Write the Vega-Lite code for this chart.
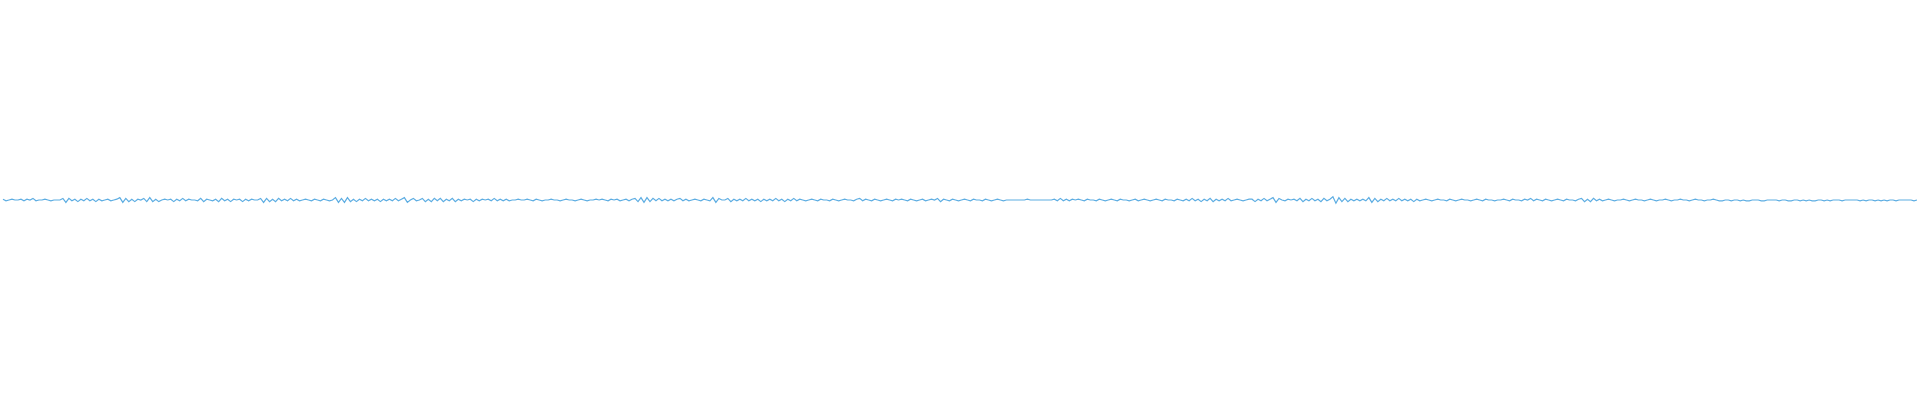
{
"$schema":"https://vega.github.io/schema/vega-lite/v6.json",
"width":1920,"height":400,"padding":0,
"autosize":{"type":"fit","contains":"padding"},
"config":{"view":{"stroke":null}},
"data":{"values":[
{"t":0,"amp":1},{"t":1,"amp":-1},{"t":2,"amp":0},{"t":3,"amp":1},{"t":4,"amp":0},{"t":5,"amp":0},{"t":6,"amp":1},{"t":7,"amp":-1},{"t":8,"amp":1},{"t":9,"amp":0},
{"t":10,"amp":2},{"t":11,"amp":-1},{"t":12,"amp":0},{"t":13,"amp":0},{"t":14,"amp":1},{"t":15,"amp":0},{"t":16,"amp":-1},{"t":17,"amp":0},{"t":18,"amp":0},{"t":19,"amp":0},
{"t":20,"amp":2},{"t":21,"amp":-3},{"t":22,"amp":2},{"t":23,"amp":-1},{"t":24,"amp":1},{"t":25,"amp":-2},{"t":26,"amp":1},{"t":27,"amp":-1},{"t":28,"amp":2},{"t":29,"amp":-1},
{"t":30,"amp":1},{"t":31,"amp":-2},{"t":32,"amp":1},{"t":33,"amp":-1},{"t":34,"amp":0},{"t":35,"amp":1},{"t":36,"amp":-1},{"t":37,"amp":0},{"t":38,"amp":1},{"t":39,"amp":3},
{"t":40,"amp":-3},{"t":41,"amp":2},{"t":42,"amp":-2},{"t":43,"amp":1},{"t":44,"amp":-2},{"t":45,"amp":1},{"t":46,"amp":0},{"t":47,"amp":2},{"t":48,"amp":-2},{"t":49,"amp":3},
{"t":50,"amp":-2},{"t":51,"amp":1},{"t":52,"amp":-2},{"t":53,"amp":0},{"t":54,"amp":1},{"t":55,"amp":0},{"t":56,"amp":1},{"t":57,"amp":-2},{"t":58,"amp":1},{"t":59,"amp":-1},
{"t":60,"amp":2},{"t":61,"amp":-1},{"t":62,"amp":1},{"t":63,"amp":0},{"t":64,"amp":0},{"t":65,"amp":-1},{"t":66,"amp":2},{"t":67,"amp":-2},{"t":68,"amp":1},{"t":69,"amp":0},
{"t":70,"amp":-1},{"t":71,"amp":1},{"t":72,"amp":-2},{"t":73,"amp":2},{"t":74,"amp":-1},{"t":75,"amp":1},{"t":76,"amp":-2},{"t":77,"amp":1},{"t":78,"amp":0},{"t":79,"amp":1},
{"t":80,"amp":-2},{"t":81,"amp":1},{"t":82,"amp":-1},{"t":83,"amp":1},{"t":84,"amp":0},{"t":85,"amp":0},{"t":86,"amp":2},{"t":87,"amp":-3},{"t":88,"amp":2},{"t":89,"amp":-2},
{"t":90,"amp":1},{"t":91,"amp":-2},{"t":92,"amp":2},{"t":93,"amp":-1},{"t":94,"amp":1},{"t":95,"amp":-1},{"t":96,"amp":2},{"t":97,"amp":-1},{"t":98,"amp":1},{"t":99,"amp":-1},
{"t":100,"amp":0},{"t":101,"amp":1},{"t":102,"amp":0},{"t":103,"amp":-1},{"t":104,"amp":1},{"t":105,"amp":0},{"t":106,"amp":-1},{"t":107,"amp":1},{"t":108,"amp":0},{"t":109,"amp":-1},
{"t":110,"amp":0},{"t":111,"amp":3},{"t":112,"amp":-3},{"t":113,"amp":2},{"t":114,"amp":-3},{"t":115,"amp":3},{"t":116,"amp":-2},{"t":117,"amp":1},{"t":118,"amp":-2},{"t":119,"amp":1},
{"t":120,"amp":-1},{"t":121,"amp":2},{"t":122,"amp":-1},{"t":123,"amp":1},{"t":124,"amp":-1},{"t":125,"amp":1},{"t":126,"amp":-2},{"t":127,"amp":1},{"t":128,"amp":-1},{"t":129,"amp":1},
{"t":130,"amp":-1},{"t":131,"amp":2},{"t":132,"amp":-1},{"t":133,"amp":1},{"t":134,"amp":3},{"t":135,"amp":-3},{"t":136,"amp":0},{"t":137,"amp":2},{"t":138,"amp":-1},{"t":139,"amp":0},
{"t":140,"amp":2},{"t":141,"amp":-2},{"t":142,"amp":1},{"t":143,"amp":-2},{"t":144,"amp":2},{"t":145,"amp":-1},{"t":146,"amp":2},{"t":147,"amp":-2},{"t":148,"amp":1},{"t":149,"amp":-1},
{"t":150,"amp":2},{"t":151,"amp":-2},{"t":152,"amp":1},{"t":153,"amp":-1},{"t":154,"amp":1},{"t":155,"amp":0},{"t":156,"amp":1},{"t":157,"amp":-2},{"t":158,"amp":1},{"t":159,"amp":-1},
{"t":160,"amp":1},{"t":161,"amp":0},{"t":162,"amp":1},{"t":163,"amp":-1},{"t":164,"amp":2},{"t":165,"amp":-1},{"t":166,"amp":1},{"t":167,"amp":-1},{"t":168,"amp":1},{"t":169,"amp":-1},
{"t":170,"amp":0},{"t":171,"amp":0},{"t":172,"amp":1},{"t":173,"amp":0},{"t":174,"amp":0},{"t":175,"amp":1},{"t":176,"amp":0},{"t":177,"amp":-1},{"t":178,"amp":1},{"t":179,"amp":0},
{"t":180,"amp":-1},{"t":181,"amp":0},{"t":182,"amp":0},{"t":183,"amp":1},{"t":184,"amp":0},{"t":185,"amp":0},{"t":186,"amp":-1},{"t":187,"amp":0},{"t":188,"amp":1},{"t":189,"amp":0},
{"t":190,"amp":0},{"t":191,"amp":-1},{"t":192,"amp":0},{"t":193,"amp":1},{"t":194,"amp":0},{"t":195,"amp":-1},{"t":196,"amp":0},{"t":197,"amp":0},{"t":198,"amp":1},{"t":199,"amp":0},
{"t":200,"amp":1},{"t":201,"amp":0},{"t":202,"amp":-1},{"t":203,"amp":1},{"t":204,"amp":0},{"t":205,"amp":1},{"t":206,"amp":-1},{"t":207,"amp":0},{"t":208,"amp":1},{"t":209,"amp":-1},
{"t":210,"amp":1},{"t":211,"amp":2},{"t":212,"amp":-2},{"t":213,"amp":3},{"t":214,"amp":-3},{"t":215,"amp":3},{"t":216,"amp":-2},{"t":217,"amp":2},{"t":218,"amp":-1},{"t":219,"amp":2},
{"t":220,"amp":-1},{"t":221,"amp":1},{"t":222,"amp":-1},{"t":223,"amp":1},{"t":224,"amp":-1},{"t":225,"amp":1},{"t":226,"amp":2},{"t":227,"amp":-1},{"t":228,"amp":1},{"t":229,"amp":-1},
{"t":230,"amp":0},{"t":231,"amp":1},{"t":232,"amp":0},{"t":233,"amp":-1},{"t":234,"amp":1},{"t":235,"amp":0},{"t":236,"amp":-1},{"t":237,"amp":3},{"t":238,"amp":-3},{"t":239,"amp":2},
{"t":240,"amp":0},{"t":241,"amp":0},{"t":242,"amp":2},{"t":243,"amp":-2},{"t":244,"amp":1},{"t":245,"amp":-1},{"t":246,"amp":1},{"t":247,"amp":-1},{"t":248,"amp":2},{"t":249,"amp":-1},
{"t":250,"amp":1},{"t":251,"amp":-1},{"t":252,"amp":1},{"t":253,"amp":-2},{"t":254,"amp":1},{"t":255,"amp":-1},{"t":256,"amp":1},{"t":257,"amp":-1},{"t":258,"amp":2},{"t":259,"amp":-1},
{"t":260,"amp":1},{"t":261,"amp":-2},{"t":262,"amp":1},{"t":263,"amp":-1},{"t":264,"amp":2},{"t":265,"amp":-1},{"t":266,"amp":1},{"t":267,"amp":0},{"t":268,"amp":-1},{"t":269,"amp":0},
{"t":270,"amp":1},{"t":271,"amp":0},{"t":272,"amp":-1},{"t":273,"amp":1},{"t":274,"amp":0},{"t":275,"amp":0},{"t":276,"amp":-1},{"t":277,"amp":1},{"t":278,"amp":0},{"t":279,"amp":-1},
{"t":280,"amp":0},{"t":281,"amp":1},{"t":282,"amp":0},{"t":283,"amp":0},{"t":284,"amp":-1},{"t":285,"amp":1},{"t":286,"amp":2},{"t":287,"amp":-1},{"t":288,"amp":1},{"t":289,"amp":0},
{"t":290,"amp":-1},{"t":291,"amp":1},{"t":292,"amp":0},{"t":293,"amp":-1},{"t":294,"amp":0},{"t":295,"amp":1},{"t":296,"amp":0},{"t":297,"amp":-1},{"t":298,"amp":1},{"t":299,"amp":0},
{"t":300,"amp":1},{"t":301,"amp":0},{"t":302,"amp":-1},{"t":303,"amp":1},{"t":304,"amp":0},{"t":305,"amp":-1},{"t":306,"amp":0},{"t":307,"amp":1},{"t":308,"amp":-1},{"t":309,"amp":0},
{"t":310,"amp":1},{"t":311,"amp":0},{"t":312,"amp":2},{"t":313,"amp":-2},{"t":314,"amp":1},{"t":315,"amp":0},{"t":316,"amp":-1},{"t":317,"amp":1},{"t":318,"amp":0},{"t":319,"amp":-1},
{"t":320,"amp":0},{"t":321,"amp":1},{"t":322,"amp":0},{"t":323,"amp":-1},{"t":324,"amp":1},{"t":325,"amp":0},{"t":326,"amp":0},{"t":327,"amp":-1},{"t":328,"amp":1},{"t":329,"amp":0},
{"t":330,"amp":-1},{"t":331,"amp":0},{"t":332,"amp":1},{"t":333,"amp":0},{"t":334,"amp":-1},{"t":335,"amp":0},{"t":336,"amp":0},{"t":337,"amp":0},{"t":338,"amp":0},{"t":339,"amp":0},
{"t":340,"amp":0},{"t":341,"amp":0},{"t":342,"amp":1},{"t":343,"amp":0},{"t":344,"amp":0},{"t":345,"amp":0},{"t":346,"amp":0},{"t":347,"amp":0},{"t":348,"amp":0},{"t":349,"amp":0},
{"t":350,"amp":0},{"t":351,"amp":1},{"t":352,"amp":-1},{"t":353,"amp":2},{"t":354,"amp":-1},{"t":355,"amp":1},{"t":356,"amp":-1},{"t":357,"amp":1},{"t":358,"amp":0},{"t":359,"amp":1},
{"t":360,"amp":0},{"t":361,"amp":-1},{"t":362,"amp":1},{"t":363,"amp":0},{"t":364,"amp":0},{"t":365,"amp":-1},{"t":366,"amp":1},{"t":367,"amp":0},{"t":368,"amp":-1},{"t":369,"amp":0},
{"t":370,"amp":1},{"t":371,"amp":0},{"t":372,"amp":-1},{"t":373,"amp":1},{"t":374,"amp":0},{"t":375,"amp":0},{"t":376,"amp":-1},{"t":377,"amp":0},{"t":378,"amp":1},{"t":379,"amp":-1},
{"t":380,"amp":0},{"t":381,"amp":1},{"t":382,"amp":0},{"t":383,"amp":-1},{"t":384,"amp":0},{"t":385,"amp":1},{"t":386,"amp":0},{"t":387,"amp":-1},{"t":388,"amp":1},{"t":389,"amp":0},
{"t":390,"amp":0},{"t":391,"amp":-1},{"t":392,"amp":1},{"t":393,"amp":0},{"t":394,"amp":-1},{"t":395,"amp":1},{"t":396,"amp":-1},{"t":397,"amp":2},{"t":398,"amp":-1},{"t":399,"amp":1},
{"t":400,"amp":-2},{"t":401,"amp":1},{"t":402,"amp":-1},{"t":403,"amp":2},{"t":404,"amp":-2},{"t":405,"amp":1},{"t":406,"amp":-1},{"t":407,"amp":1},{"t":408,"amp":-1},{"t":409,"amp":2},
{"t":410,"amp":-1},{"t":411,"amp":0},{"t":412,"amp":1},{"t":413,"amp":0},{"t":414,"amp":-1},{"t":415,"amp":0},{"t":416,"amp":1},{"t":417,"amp":1},{"t":418,"amp":-2},{"t":419,"amp":1},
{"t":420,"amp":-1},{"t":421,"amp":2},{"t":422,"amp":-1},{"t":423,"amp":1},{"t":424,"amp":3},{"t":425,"amp":-3},{"t":426,"amp":2},{"t":427,"amp":0},{"t":428,"amp":-1},{"t":429,"amp":1},
{"t":430,"amp":0},{"t":431,"amp":1},{"t":432,"amp":-1},{"t":433,"amp":2},{"t":434,"amp":-2},{"t":435,"amp":1},{"t":436,"amp":-1},{"t":437,"amp":2},{"t":438,"amp":-1},{"t":439,"amp":1},
{"t":440,"amp":-2},{"t":441,"amp":2},{"t":442,"amp":-1},{"t":443,"amp":1},{"t":444,"amp":4},{"t":445,"amp":-4},{"t":446,"amp":3},{"t":447,"amp":-2},{"t":448,"amp":2},{"t":449,"amp":-2},
{"t":450,"amp":1},{"t":451,"amp":-1},{"t":452,"amp":1},{"t":453,"amp":-1},{"t":454,"amp":1},{"t":455,"amp":-1},{"t":456,"amp":3},{"t":457,"amp":-3},{"t":458,"amp":2},{"t":459,"amp":-2},
{"t":460,"amp":1},{"t":461,"amp":-1},{"t":462,"amp":2},{"t":463,"amp":-1},{"t":464,"amp":1},{"t":465,"amp":-1},{"t":466,"amp":2},{"t":467,"amp":-1},{"t":468,"amp":1},{"t":469,"amp":-1},
{"t":470,"amp":1},{"t":471,"amp":-2},{"t":472,"amp":1},{"t":473,"amp":-1},{"t":474,"amp":0},{"t":475,"amp":1},{"t":476,"amp":0},{"t":477,"amp":-1},{"t":478,"amp":0},{"t":479,"amp":1},
{"t":480,"amp":0},{"t":481,"amp":0},{"t":482,"amp":-1},{"t":483,"amp":1},{"t":484,"amp":0},{"t":485,"amp":-1},{"t":486,"amp":0},{"t":487,"amp":1},{"t":488,"amp":0},{"t":489,"amp":0},
{"t":490,"amp":-1},{"t":491,"amp":0},{"t":492,"amp":1},{"t":493,"amp":0},{"t":494,"amp":-1},{"t":495,"amp":1},{"t":496,"amp":0},{"t":497,"amp":0},{"t":498,"amp":-1},{"t":499,"amp":0},
{"t":500,"amp":0},{"t":501,"amp":1},{"t":502,"amp":0},{"t":503,"amp":-1},{"t":504,"amp":1},{"t":505,"amp":0},{"t":506,"amp":0},{"t":507,"amp":-1},{"t":508,"amp":1},{"t":509,"amp":0},
{"t":510,"amp":2},{"t":511,"amp":-1},{"t":512,"amp":1},{"t":513,"amp":0},{"t":514,"amp":-1},{"t":515,"amp":1},{"t":516,"amp":0},{"t":517,"amp":-1},{"t":518,"amp":0},{"t":519,"amp":1},
{"t":520,"amp":0},{"t":521,"amp":-1},{"t":522,"amp":1},{"t":523,"amp":0},{"t":524,"amp":0},{"t":525,"amp":-1},{"t":526,"amp":1},{"t":527,"amp":2},{"t":528,"amp":-2},{"t":529,"amp":1},
{"t":530,"amp":-2},{"t":531,"amp":2},{"t":532,"amp":-1},{"t":533,"amp":1},{"t":534,"amp":-1},{"t":535,"amp":0},{"t":536,"amp":1},{"t":537,"amp":0},{"t":538,"amp":-1},{"t":539,"amp":0},
{"t":540,"amp":0},{"t":541,"amp":1},{"t":542,"amp":0},{"t":543,"amp":-1},{"t":544,"amp":0},{"t":545,"amp":1},{"t":546,"amp":0},{"t":547,"amp":0},{"t":548,"amp":-1},{"t":549,"amp":0},
{"t":550,"amp":1},{"t":551,"amp":0},{"t":552,"amp":-1},{"t":553,"amp":0},{"t":554,"amp":0},{"t":555,"amp":1},{"t":556,"amp":0},{"t":557,"amp":-1},{"t":558,"amp":0},{"t":559,"amp":0},
{"t":560,"amp":1},{"t":561,"amp":0},{"t":562,"amp":0},{"t":563,"amp":-1},{"t":564,"amp":0},{"t":565,"amp":1},{"t":566,"amp":0},{"t":567,"amp":0},{"t":568,"amp":-1},{"t":569,"amp":0},
{"t":570,"amp":0},{"t":571,"amp":1},{"t":572,"amp":0},{"t":573,"amp":-1},{"t":574,"amp":-1},{"t":575,"amp":0},{"t":576,"amp":0},{"t":577,"amp":-1},{"t":578,"amp":0},{"t":579,"amp":0},
{"t":580,"amp":-1},{"t":581,"amp":0},{"t":582,"amp":-1},{"t":583,"amp":-1},{"t":584,"amp":0},{"t":585,"amp":0},{"t":586,"amp":0},{"t":587,"amp":-1},{"t":588,"amp":-1},{"t":589,"amp":0},
{"t":590,"amp":0},{"t":591,"amp":0},{"t":592,"amp":0},{"t":593,"amp":-1},{"t":594,"amp":0},{"t":595,"amp":0},{"t":596,"amp":-1},{"t":597,"amp":-1},{"t":598,"amp":0},{"t":599,"amp":0},
{"t":600,"amp":-1},{"t":601,"amp":0},{"t":602,"amp":-1},{"t":603,"amp":0},{"t":604,"amp":-1},{"t":605,"amp":-1},{"t":606,"amp":0},{"t":607,"amp":0},{"t":608,"amp":-1},{"t":609,"amp":0},
{"t":610,"amp":-1},{"t":611,"amp":0},{"t":612,"amp":0},{"t":613,"amp":0},{"t":614,"amp":-1},{"t":615,"amp":0},{"t":616,"amp":0},{"t":617,"amp":0},{"t":618,"amp":0},{"t":619,"amp":0},
{"t":620,"amp":-1},{"t":621,"amp":0},{"t":622,"amp":-1},{"t":623,"amp":0},{"t":624,"amp":0},{"t":625,"amp":-1},{"t":626,"amp":0},{"t":627,"amp":-1},{"t":628,"amp":0},{"t":629,"amp":-1},
{"t":630,"amp":0},{"t":631,"amp":0},{"t":632,"amp":-1},{"t":633,"amp":0},{"t":634,"amp":0},{"t":635,"amp":0},{"t":636,"amp":0},{"t":637,"amp":0},{"t":638,"amp":-1},{"t":639,"amp":0}
]},
"mark":{"type":"line","color":"#5dade2","strokeWidth":1.2,"interpolate":"linear"},
"encoding":{
"x":{"field":"t","type":"quantitative","axis":null,"scale":{"domain":[0,639],"nice":false,"zero":false}},
"y":{"field":"amp","type":"quantitative","axis":null,"scale":{"domain":[-250,250],"nice":false}}
}
}
